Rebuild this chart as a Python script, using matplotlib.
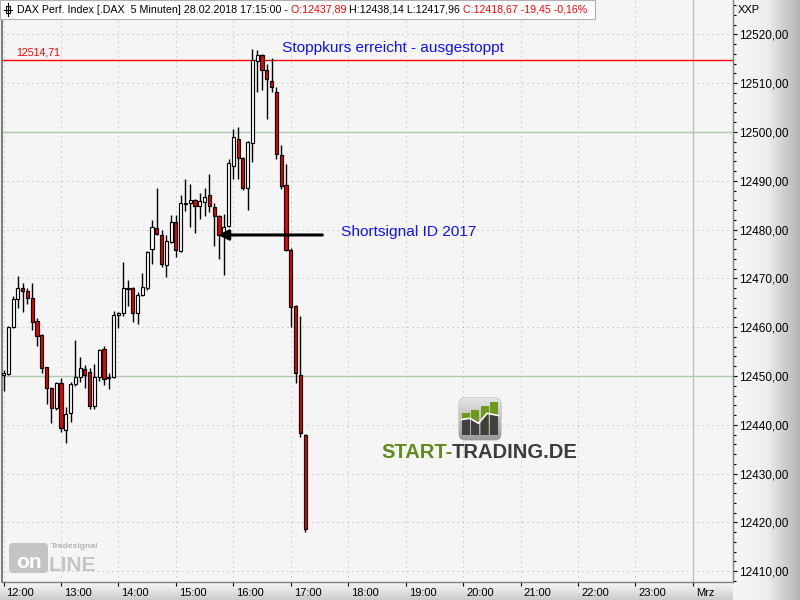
import numpy as np
import matplotlib
matplotlib.use("Agg")
import matplotlib.pyplot as plt
import matplotlib.transforms as mtransforms
from matplotlib.patches import FancyBboxPatch, Rectangle, Polygon
from matplotlib.colors import LinearSegmentedColormap

plt.rcParams['font.family'] = ['Liberation Sans', 'DejaVu Sans']

# DAX 5 minute candles, 28.02.2018
bar_time = ["12:00", "12:05", "12:10", "12:15", "12:20", "12:25", "12:30", "12:35", "12:40", "12:45", "12:50", "12:55",
            "13:00", "13:05", "13:10", "13:15", "13:20", "13:25", "13:30", "13:35", "13:40", "13:45", "13:50", "13:55",
            "14:00", "14:05", "14:10", "14:15", "14:20", "14:25", "14:30", "14:35", "14:40", "14:45", "14:50", "14:55",
            "15:00", "15:05", "15:10", "15:15", "15:20", "15:25", "15:30", "15:35", "15:40", "15:45", "15:50", "15:55",
            "16:00", "16:05", "16:10", "16:15", "16:20", "16:25", "16:30", "16:35", "16:40", "16:45", "16:50", "16:55",
            "17:00", "17:05", "17:10", "17:15"]
opens = [12450.2, 12450.5, 12460.0, 12465.8, 12468.1, 12467.4, 12465.9, 12461.3, 12458.5, 12451.8, 12447.5, 12443.4,
         12448.5, 12438.9, 12442.4, 12448.3, 12449.7, 12451.4, 12450.8, 12443.9, 12449.7, 12455.5, 12449.6, 12449.7,
         12462.5, 12463.0, 12467.8, 12468.0, 12462.9, 12466.6, 12468.0, 12476.0, 12480.3, 12478.9, 12472.7, 12477.5,
         12481.6, 12475.6, 12485.3, 12485.4, 12486.1, 12484.9, 12485.7, 12487.1, 12484.6, 12482.7, 12478.9, 12480.8,
         12493.1, 12498.5, 12494.6, 12488.6, 12497.7, 12514.5, 12515.8, 12512.7, 12510.4, 12508.1, 12495.3, 12489.1,
         12475.8, 12464.4, 12450.2, 12437.89]
highs = [12451.2, 12460.3, 12466.3, 12470.4, 12469.0, 12468.0, 12469.0, 12461.8, 12458.6, 12451.9, 12447.8, 12448.8,
         12449.5, 12443.7, 12448.8, 12457.4, 12453.8, 12452.3, 12451.6, 12452.4, 12455.5, 12456.2, 12450.6, 12463.3,
         12463.2, 12473.4, 12469.7, 12468.2, 12467.2, 12471.1, 12475.6, 12482.0, 12488.5, 12479.9, 12478.9, 12483.0,
         12483.0, 12487.1, 12490.3, 12489.3, 12486.3, 12487.5, 12488.5, 12491.3, 12485.4, 12482.9, 12483.3, 12494.5,
         12500.6, 12501.1, 12494.8, 12498.1, 12517.1, 12516.9, 12516.0, 12513.9, 12515.1, 12509.2, 12497.3, 12493.4,
         12476.2, 12464.6, 12462.2, 12438.14]
lows = [12446.9, 12450.2, 12459.8, 12463.9, 12463.2, 12464.8, 12459.4, 12456.2, 12450.6, 12444.2, 12440.3, 12443.0,
        12438.6, 12436.2, 12440.5, 12448.0, 12448.8, 12447.5, 12443.2, 12443.2, 12449.0, 12448.2, 12447.4, 12449.5,
        12459.8, 12462.2, 12464.4, 12461.1, 12460.6, 12466.4, 12467.6, 12473.0, 12478.8, 12472.3, 12470.3, 12477.3,
        12474.4, 12475.4, 12483.9, 12480.6, 12479.4, 12482.2, 12482.8, 12483.7, 12476.7, 12474.0, 12470.7, 12480.6,
        12490.3, 12490.3, 12488.1, 12484.1, 12493.9, 12508.3, 12508.6, 12502.6, 12508.1, 12494.4, 12488.4, 12475.6,
        12460.1, 12448.5, 12437.6, 12417.96]
closes = [12450.6, 12460.0, 12465.7, 12468.1, 12467.4, 12465.9, 12461.1, 12458.3, 12451.6, 12447.5, 12443.4, 12448.6,
          12439.3, 12442.2, 12448.4, 12449.7, 12451.6, 12450.2, 12443.9, 12449.7, 12455.3, 12449.4, 12449.8, 12462.5,
          12463.0, 12468.0, 12468.1, 12462.9, 12466.6, 12468.2, 12475.4, 12480.5, 12479.0, 12472.9, 12477.7, 12481.6,
          12475.8, 12485.4, 12485.5, 12486.0, 12484.9, 12485.8, 12486.7, 12484.9, 12482.7, 12478.9, 12480.6, 12493.6,
          12498.9, 12494.6, 12488.6, 12497.9, 12514.8, 12515.8, 12512.7, 12510.8, 12509.2, 12495.4, 12489.0, 12475.8,
          12464.2, 12450.7, 12438.3, 12418.67]

hour_labels = ["12:00", "13:00", "14:00", "15:00", "16:00", "17:00", "18:00", "19:00",
               "20:00", "21:00", "22:00", "23:00", "Mrz"]
price_ticks = [12410, 12420, 12430, 12440, 12450, 12460, 12470, 12480, 12490, 12500, 12510, 12520]
stop_level = 12514.71
green_levels = [12450, 12500]


def to_min(t):
    hh, mm = t.split(":")
    return (int(hh) - 12) * 60 + int(mm)


x = np.array([to_min(t) for t in bar_time], dtype=float)
o = np.array(opens)
h = np.array(highs)
l = np.array(lows)
c = np.array(closes)
up = c >= o

fig = plt.figure(figsize=(8, 6), dpi=100)
fig.patch.set_facecolor('#f5f5f5')

# gradient panels (price scale right, time scale bottom)
bg_r = fig.add_axes([733/800, 0, 67/800, 1])
bg_r.imshow(np.linspace(0, 1, 256)[None, :], aspect='auto', extent=[0, 1, 0, 1],
            cmap=LinearSegmentedColormap.from_list('r', ['#f6f6f6', '#eeeeee', '#b4b4b4']))
bg_r.axis('off')
bg_b = fig.add_axes([0, 0, 733/800, 18/600])
bg_b.imshow(np.linspace(0, 1, 64)[:, None], aspect='auto', extent=[0, 1, 0, 1],
            cmap=LinearSegmentedColormap.from_list('b', ['#f8f8f8', '#cccccc']))
bg_b.axis('off')

ax = fig.add_axes([2/800, 18/600, 731/800, 582/600])
ax.set_facecolor('#f5f5f5')
ax.set_xlim(-1.6, 761.9)
ax.set_ylim(12407.79, 12527.05)

# grid
dot = dict(color='#a9bfa9', lw=0.72, linestyle=(0, (1, 4)), zorder=1)
for v in price_ticks:
    if v in green_levels:
        ax.axhline(v, color='#b0cab0', lw=1.0, zorder=1)
    else:
        ax.axhline(v, **dot)
hour_pos = [to_min(t) for t in hour_labels[:-1]] + [720]
for v in hour_pos[:-1]:
    ax.axvline(v, **dot)
ax.axvline(720, color='#b0cab0', lw=1.0, zorder=1)

# candles
ax.vlines(x, l, h, color='black', lw=1.0, zorder=3)
body = np.maximum(np.abs(c - o), 0.15)
ax.bar(x, body, bottom=np.minimum(o, c), width=3.3,
       color=np.where(up, 'white', '#f00000'), edgecolor='black', linewidth=0.85, zorder=4)

# stop level
ax.axhline(stop_level, color='#ff0000', lw=1.0, zorder=2)
ax.text(13, stop_level + 0.6, "12514,71", color='#ff0000', fontsize=7.7, va='bottom', ha='left')
ax.text(291, 12517.2, "Stoppkurs erreicht - ausgestoppt", color='#1010ff', fontsize=11.1, va='center', ha='left')

# short signal
ax.annotate('', xy=(224, 12478.9), xytext=(333, 12478.9),
            arrowprops=dict(arrowstyle='-|>,head_length=0.6,head_width=0.3', color='black', lw=2.2,
                            shrinkA=0, shrinkB=0), zorder=6)
ax.text(352, 12479.6, "Shortsignal ID 2017", color='#1010ff', fontsize=11.1, va='center', ha='left')

# axes styling
ax.yaxis.tick_right()
ax.set_yticks(price_ticks)
ax.set_yticklabels([f"{v:.2f}".replace('.', ',') for v in price_ticks])
ax.set_yticks(np.arange(12408, 12528, 2), minor=True)
ax.tick_params(axis='y', which='major', direction='out', length=3, width=0.8, pad=1, labelsize=8.5, colors='black')
ax.tick_params(axis='y', which='minor', direction='out', length=2, width=0.8)
ax.set_xticks(hour_pos)
ax.set_xticklabels(hour_labels)
ax.tick_params(axis='x', direction='out', length=3, width=0.8, pad=1, labelsize=8, colors='black')
offset = mtransforms.ScaledTranslation(3/100, 0, fig.dpi_scale_trans)
for lab in ax.get_xticklabels():
    lab.set_horizontalalignment('left')
    lab.set_transform(lab.get_transform() + offset)
for side in ['left', 'right', 'bottom']:
    ax.spines[side].set_color('#808080')
    ax.spines[side].set_linewidth(1.0)
ax.spines['left'].set_linewidth(1.5)
ax.spines['top'].set_visible(False)

# overlay in pixel coordinates for header and watermarks
ov = fig.add_axes([0, 0, 1, 1], zorder=5)
ov.set_xlim(0, 800)
ov.set_ylim(600, 0)
ov.axis('off')
ov.patch.set_alpha(0)

ov.add_patch(Rectangle((0, 0), 595, 19, facecolor='white', edgecolor='#b0b0b0', lw=0.8))
ov.add_patch(Rectangle((6, 6), 4, 7, facecolor='white', edgecolor='black', lw=0.8))
ov.plot([8, 8], [3, 16], color='black', lw=0.8)
ov.plot([4, 12], [9.5, 9.5], color='black', lw=0.8)
fig.text(738/800, 1 - 10/600, "XXP", fontsize=8, va='center', ha='left')

renderer = fig.canvas.get_renderer()


def put_parts(px, py, parts, **kw):
    for s, col in parts:
        t = fig.text(px/800, 1 - py/600, s, color=col, va='center', ha='left', zorder=10, **kw)
        px = t.get_window_extent(renderer).x1
    return px


put_parts(17, 10, [("DAX Perf. Index [.DAX  5 Minuten] 28.02.2018 17:15:00 -", 'black'),
                   (" O:12437,89", '#ff0000'),
                   (" H:12438,14 L:12417,96", 'black'),
                   (" C:12418,67 -19,45 -0,16%", '#ff0000')], fontsize=7.7)

# START-TRADING.DE watermark
icon = FancyBboxPatch((459, 398), 42, 42, boxstyle='round,pad=0,rounding_size=6',
                      facecolor='none', edgecolor='#a8a8a8', lw=0.6)
ov.add_patch(icon)
im = ov.imshow(np.linspace(0, 1, 64)[:, None], extent=[459, 501, 440, 398], aspect='auto',
               cmap=LinearSegmentedColormap.from_list('i', ['#e4e4e4', '#9a9a9a']), zorder=1)
im.set_clip_path(icon)
line_x = [461.5, 470, 478.5, 487, 498.5]
line_y = [419.5, 418.3, 423.3, 413.3, 415.5]
for xa, xb, top in [(462, 470, 413), (471, 479, 410), (480.5, 488.5, 406), (490, 498, 402)]:
    ov.add_patch(Rectangle((xa, top), xb - xa, 435 - top, facecolor='#6d9a1e', edgecolor='none', zorder=2))
    ya, yb = np.interp([xa, xb], line_x, line_y)
    ov.add_patch(Polygon([(xa, ya), (xb, yb), (xb, 435), (xa, 435)], closed=True,
                         facecolor='#404040', edgecolor='none', zorder=3))
ov.plot(line_x, line_y, color='white', lw=1.2, zorder=4)
put_parts(381, 453, [("START-", '#5f8a1c'), ("TRADING.DE", '#3c3c3c')], fontsize=14.5, fontweight='bold')

# Tradesignal online watermark
ov.add_patch(FancyBboxPatch((9, 543), 39, 30, boxstyle='round,pad=0,rounding_size=4',
                            facecolor='#c4c4c4', edgecolor='none'))
ov.text(28.5, 562, "on", color='white', fontsize=15, fontweight='bold', ha='center', va='center')
ov.text(49, 571, "LINE", color='#c4c4c4', fontsize=15, fontweight='bold', ha='left', va='baseline')
ov.text(51, 548.5, "Tradesignal", color='#b4b4b4', fontsize=6, fontweight='bold', ha='left', va='baseline')

fig.savefig("out.png", dpi=100, facecolor=fig.get_facecolor())
